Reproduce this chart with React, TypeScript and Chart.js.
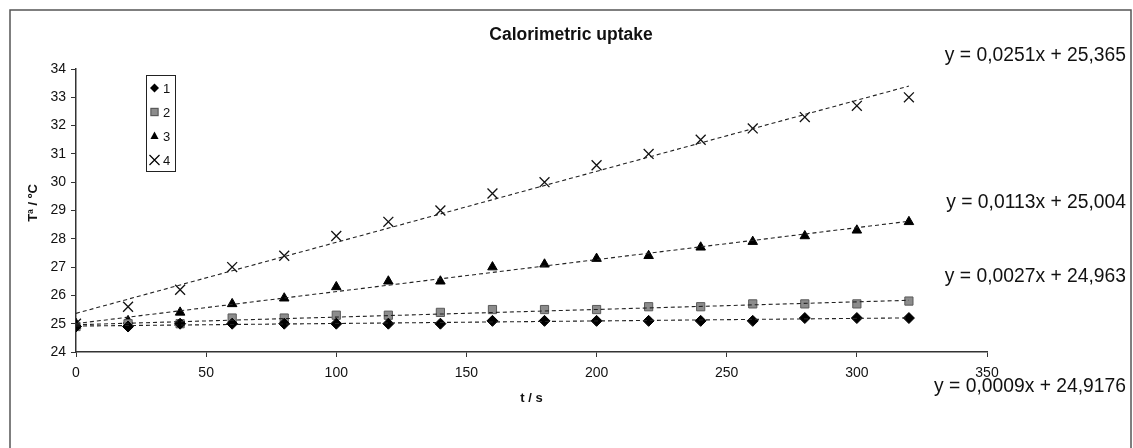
import React, { useEffect, useRef } from "react";
import { Chart, registerables } from "chart.js";

Chart.register(...registerables);

const times = [0, 20, 40, 60, 80, 100, 120, 140, 160, 180, 200, 220, 240, 260, 280, 300, 320];
const series1 = [24.9, 24.9, 25.0, 25.0, 25.0, 25.0, 25.0, 25.0, 25.1, 25.1, 25.1, 25.1, 25.1, 25.1, 25.2, 25.2, 25.2];
const series2 = [24.9, 25.0, 25.0, 25.2, 25.2, 25.3, 25.3, 25.4, 25.5, 25.5, 25.5, 25.6, 25.6, 25.7, 25.7, 25.7, 25.8];
const series3 = [25.0, 25.1, 25.4, 25.7, 25.9, 26.3, 26.5, 26.5, 27.0, 27.1, 27.3, 27.4, 27.7, 27.9, 28.1, 28.3, 28.6];
const series4 = [25.0, 25.6, 26.2, 27.0, 27.4, 28.1, 28.6, 29.0, 29.6, 30.0, 30.6, 31.0, 31.5, 31.9, 32.3, 32.7, 33.0];
const seriesNames = ["1", "2", "3", "4"];
const slopes = [0.0009, 0.0027, 0.0113, 0.0251];
const intercepts = [24.9176, 24.963, 25.004, 25.365];
const equationLabels = [
  "y = 0,0009x + 24,9176",
  "y = 0,0027x + 24,963",
  "y = 0,0113x + 25,004",
  "y = 0,0251x + 25,365",
];
const chartTitle = "Calorimetric uptake";
const xTitle = "t / s";
const yTitle = "Tª / ºC";

const FONT = "'Liberation Sans', Arial, sans-serif";

function drawMarker(ctx: CanvasRenderingContext2D, kind: number, x: number, y: number, s: number) {
  ctx.save();
  ctx.lineWidth = 1.2;
  if (kind === 0) {
    ctx.fillStyle = "#000";
    ctx.beginPath();
    ctx.moveTo(x, y - s);
    ctx.lineTo(x + s, y);
    ctx.lineTo(x, y + s);
    ctx.lineTo(x - s, y);
    ctx.closePath();
    ctx.fill();
  } else if (kind === 1) {
    const h = s * 0.8;
    ctx.fillStyle = "#8c8c8c";
    ctx.strokeStyle = "#5a5a5a";
    ctx.fillRect(x - h, y - h, 2 * h, 2 * h);
    ctx.strokeRect(x - h, y - h, 2 * h, 2 * h);
  } else if (kind === 2) {
    ctx.fillStyle = "#000";
    ctx.beginPath();
    ctx.moveTo(x, y - s);
    ctx.lineTo(x + s * 0.9, y + s * 0.65);
    ctx.lineTo(x - s * 0.9, y + s * 0.65);
    ctx.closePath();
    ctx.fill();
  } else {
    ctx.strokeStyle = "#000";
    ctx.beginPath();
    ctx.moveTo(x - s, y - s);
    ctx.lineTo(x + s, y + s);
    ctx.moveTo(x + s, y - s);
    ctx.lineTo(x - s, y + s);
    ctx.stroke();
  }
  ctx.restore();
}

const decorPlugin = {
  id: "decor",
  afterDraw(chart: any) {
    const ctx: CanvasRenderingContext2D = chart.ctx;
    const area = chart.chartArea;
    ctx.save();
    // outer frame
    ctx.strokeStyle = "#555";
    ctx.lineWidth = 1.5;
    ctx.strokeRect(10, 10, 1121, 470);

    // title
    ctx.fillStyle = "#111";
    ctx.font = `bold 17.5px ${FONT}`;
    ctx.textAlign = "center";
    ctx.textBaseline = "middle";
    ctx.fillText(chartTitle, 571, 35);

    // x title
    ctx.font = `bold 13px ${FONT}`;
    ctx.fillText(xTitle, (area.left + area.right) / 2, 398);

    // y title
    ctx.save();
    ctx.translate(33, 203);
    ctx.rotate(-Math.PI / 2);
    ctx.fillText(yTitle, 0, 0);
    ctx.restore();

    // legend
    ctx.strokeStyle = "#222";
    ctx.lineWidth = 1;
    ctx.strokeRect(146.5, 75.5, 29, 96);
    const ys = [88, 112, 136, 160];
    ctx.font = `13px ${FONT}`;
    ctx.textAlign = "left";
    ctx.fillStyle = "#111";
    for (let i = 0; i < 4; i++) {
      drawMarker(ctx, i, 154.5, ys[i], i === 3 ? 5 : 4.5);
      ctx.fillText(seriesNames[i], 163, ys[i] + 1);
    }

    // equations
    ctx.font = `19.3px ${FONT}`;
    ctx.textAlign = "right";
    ctx.textBaseline = "middle";
    ctx.fillStyle = "#111";
    const eqY = [387, 277, 203, 56];
    for (let i = 0; i < 4; i++) {
      ctx.fillText(equationLabels[i], 1126, eqY[i]);
    }
    ctx.restore();
  },
};

export default function App() {
  const ref = useRef<HTMLCanvasElement>(null);
  useEffect(() => {
    if (!ref.current) return;
    const all = [series1, series2, series3, series4];
    const styles = [
      { pointStyle: "rectRot", radius: 5.5, bg: "#000", border: "#000", bw: 1 },
      { pointStyle: "rect", radius: 5.8, bg: "#8c8c8c", border: "#5a5a5a", bw: 1 },
      { pointStyle: "triangle", radius: 5.5, bg: "#000", border: "#000", bw: 1 },
      { pointStyle: "crossRot", radius: 7, bg: "#000", border: "#111", bw: 1.3 },
    ];
    const datasets: any[] = [];
    for (let i = 0; i < 4; i++) {
      const x0 = times[0];
      const x1 = times[times.length - 1];
      datasets.push({
        label: "trend " + seriesNames[i],
        data: [
          { x: x0, y: slopes[i] * x0 + intercepts[i] },
          { x: x1, y: slopes[i] * x1 + intercepts[i] },
        ],
        showLine: true,
        borderColor: "#222",
        borderWidth: 1.1,
        borderDash: [4, 3],
        pointRadius: 0,
        fill: false,
      });
    }
    for (let i = 0; i < 4; i++) {
      const st = styles[i];
      datasets.push({
        label: seriesNames[i],
        data: times.map((t, j) => ({ x: t, y: all[i][j] })),
        showLine: false,
        pointStyle: st.pointStyle,
        pointRadius: st.radius,
        pointBackgroundColor: st.bg,
        pointBorderColor: st.border,
        pointBorderWidth: st.bw,
      });
    }
    const chart = new Chart(ref.current, {
      type: "scatter",
      data: { datasets },
      options: {
        animation: false,
        responsive: false,
        devicePixelRatio: 1,
        layout: { padding: { top: 69, right: 146, left: 0, bottom: 0 } },
        plugins: {
          legend: { display: false },
          title: { display: false },
          tooltip: { enabled: false },
        },
        scales: {
          x: {
            type: "linear",
            min: 0,
            max: 350,
            afterFit: (s: any) => {
              s.height = 96;
            },
            ticks: {
              stepSize: 50,
              color: "#111",
              font: { family: FONT, size: 14 },
              padding: 8,
              maxRotation: 0,
            },
            grid: {
              display: true,
              drawOnChartArea: false,
              drawTicks: true,
              tickLength: 5,
              color: "#333",
            },
            border: { display: true, color: "#333", width: 1.5 },
          },
          y: {
            type: "linear",
            min: 24,
            max: 34,
            afterFit: (s: any) => {
              s.width = 76;
            },
            ticks: {
              stepSize: 1,
              color: "#111",
              font: { family: FONT, size: 14 },
              padding: 5,
            },
            grid: {
              display: true,
              drawOnChartArea: false,
              drawTicks: true,
              tickLength: 5,
              color: "#333",
            },
            border: { display: true, color: "#333", width: 1.5 },
          },
        },
      },
      plugins: [decorPlugin],
    });
    return () => chart.destroy();
  }, []);
  return (
    <div style={{ position: "fixed", left: 0, top: 0, width: 1133, height: 448, background: "#fff" }}>
      <canvas ref={ref} width={1133} height={448} style={{ width: 1133, height: 448 }} />
    </div>
  );
}
